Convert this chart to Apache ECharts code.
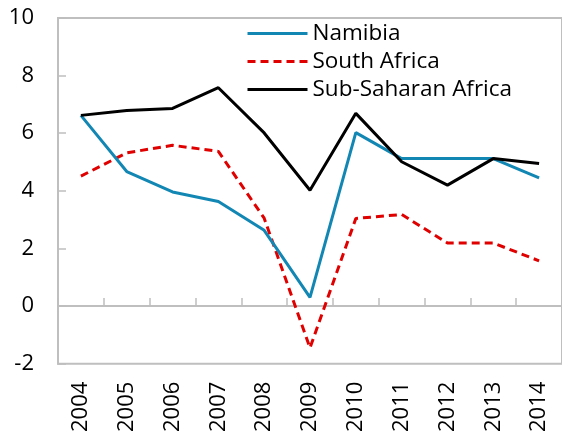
<!DOCTYPE html>
<html>
<head>
<meta charset="utf-8">
<script src="https://cdn.jsdelivr.net/npm/echarts@6/dist/echarts.min.js"></script>
<style>
    html, body { margin: 0; padding: 0; background: #fff; }
    #chart_id { width: 562px; height: 435px; }
</style>
</head>
<body>
<div id="chart_id"></div>
<script>
var years = ['2004', '2005', '2006', '2007', '2008', '2009', '2010', '2011', '2012', '2013', '2014'];
var namibia = [6.62, 4.67, 3.96, 3.63, 2.63, 0.30, 6.02, 5.12, 5.12, 5.12, 4.45];
var southAfrica = [4.51, 5.32, 5.58, 5.37, 3.05, -1.45, 3.04, 3.18, 2.19, 2.19, 1.57];
var subSaharan = [6.62, 6.79, 6.86, 7.58, 6.01, 4.02, 6.69, 5.01, 4.20, 5.12, 4.95];
var yTicks = { min: -2, max: 10, step: 2 };

initChart();

function initChart() {
    var myChart = echarts.init(document.getElementById("chart_id"));
    var font = "'Open Sans', 'DejaVu Sans', sans-serif";
    var gray = '#bfbfbf';
    var option = {
        animation : false,
        textStyle : { fontFamily : font },
        grid : {
            left : 58, right : -2, top : 18, bottom : 70,
            show : true,
            borderColor : gray,
            borderWidth : 2
        },
        legend : {
            orient : 'vertical',
            left : 241,
            top : 17,
            itemWidth : 60,
            itemHeight : 20,
            itemGap : 5,
            //只保留图例中的线段，隐藏中间的圆点
            itemStyle : { opacity : 0 },
            lineStyle : { opacity : 1, width : 3 },
            textStyle : { fontSize : 22.5, color : '#000', lineHeight : 20, fontFamily : font },
            data : ['Namibia', 'South Africa', 'Sub-Saharan Africa']
        },
        xAxis : [
            {
                type : 'category',
                data : years,
                position : 'bottom',
                axisLine : { show : false, onZero : false },
                axisTick : { show : false },
                axisLabel : { rotate : 90, fontSize : 22, color : '#000', margin : 18, fontFamily : font }
            },
            {
                type : 'category',
                data : years,
                position : 'bottom',
                axisLine : { show : true, onZero : true, lineStyle : { color : gray, width : 2 } },
                axisTick : { show : true, inside : true, length : 8, lineStyle : { color : gray, width : 1.5 } },
                axisLabel : { show : false }
            }
        ],
        yAxis : {
            type : 'value',
            min : yTicks.min,
            max : yTicks.max,
            interval : yTicks.step,
            axisLine : { show : true, lineStyle : { color : gray, width : 2 } },
            axisTick : { show : true, inside : true, length : 8, lineStyle : { color : gray, width : 1.5 } },
            splitLine : { show : false },
            axisLabel : { fontSize : 22, color : '#000', margin : 24, fontFamily : font }
        },
        series : [
            {
                name : 'Namibia',
                type : 'line',
                data : namibia,
                symbol : 'none',
                z : 3,
                lineStyle : { color : '#1287b4', width : 3 },
                itemStyle : { color : '#1287b4' }
            },
            {
                name : 'South Africa',
                type : 'line',
                data : southAfrica,
                symbol : 'none',
                z : 2,
                lineStyle : { color : '#e00000', width : 3, type : [8, 5] },
                itemStyle : { color : '#e00000' }
            },
            {
                name : 'Sub-Saharan Africa',
                type : 'line',
                data : subSaharan,
                symbol : 'none',
                z : 4,
                lineStyle : { color : '#000', width : 3 },
                itemStyle : { color : '#000' }
            }
        ]
    };
    myChart.setOption(option, true);
}
</script>
</body>
</html>
